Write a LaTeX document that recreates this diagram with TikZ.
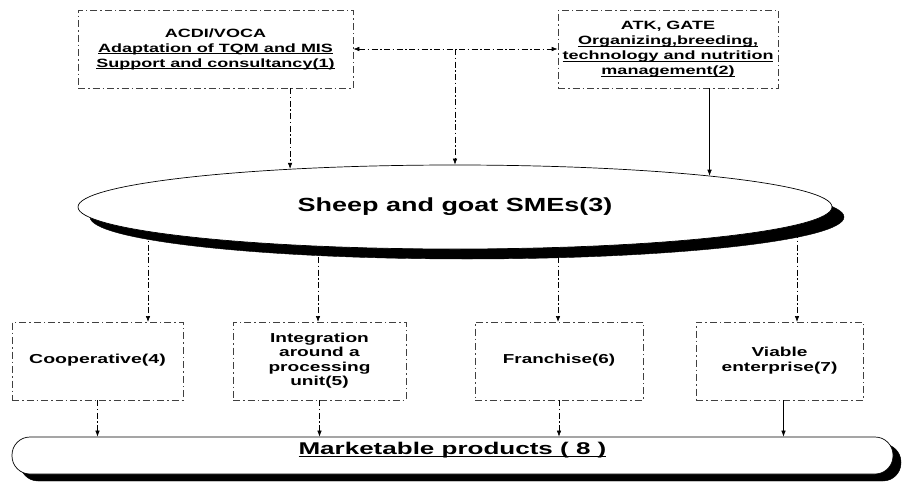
\documentclass[tikz,border=0pt]{standalone}
\usepackage{fontspec}
\setmainfont{Liberation Sans}
\usepackage{graphicx}
\usetikzlibrary{arrows.meta,shapes.geometric,backgrounds}
\newcommand{\wtxt}[2]{\scalebox{#1}[1]{\begin{tabular}{@{}c@{}}#2\end{tabular}}}
\newcommand{\ulin}[1]{$\underline{\hbox{\smash{#1}}}$}
\tikzset{
  dbox/.style={draw=black!75, line width=0.6pt, dash pattern=on 7pt off 3pt on 1.5pt off 3pt,
    inner sep=0pt, fill=white, font=\bfseries\fontsize{12}{15}\selectfont},
  lbox/.style={dbox, minimum height=78pt, font=\bfseries\fontsize{13}{14.5}\selectfont},
  arr/.style={-{Latex[length=6pt,width=4.5pt]}, line width=0.6pt,
    dash pattern=on 6pt off 2.5pt on 1.5pt off 2.5pt},
  sarr/.style={-{Latex[length=6pt,width=4.5pt]}, line width=0.6pt},
  shad/.style={fill=black, draw=black},
}
\begin{document}
\begin{tikzpicture}[x=1pt,y=-1pt]
\useasboundingbox (0,0) rectangle (907,482);
% top boxes
\node[dbox, minimum width=275pt, minimum height=78pt] (b1) at (215.5,49)
  {\wtxt{1.5}{ACDI/VOCA\\ \ulin{Adaptation of TQM and MIS}\\ \ulin{Support and consultancy(1)}}};
\node[dbox, minimum width=220pt, minimum height=78pt] (b2) at (668,49)
  {\wtxt{1.5}{ATK, GATE\\ \ulin{Organizing,breeding,}\\ \ulin{technology and nutrition}\\ \ulin{management(2)}}};
% ellipse with shadow
\node[ellipse, shad, minimum width=754pt, minimum height=84pt, inner sep=0pt] (sh) at (467,217) {};
\node[ellipse, draw=black, line width=0.7pt, fill=white, minimum width=754pt, minimum height=84pt, inner sep=0pt,
  font=\bfseries\fontsize{19}{21}\selectfont] (sme) at (455,207) {\scalebox{1.42}[1]{Sheep and goat SMEs(3)}};
% bottom boxes
\node[lbox, minimum width=171pt] (b4) at (97.5,361) {\wtxt{1.5}{Cooperative(4)}};
\node[lbox, minimum width=173pt] (b5) at (319.5,361) {\wtxt{1.47}{Integration\\ around a\\ processing\\ unit(5)}};
\node[lbox, minimum width=168pt] (b6) at (559,361) {\wtxt{1.45}{Franchise(6)}};
\node[lbox, minimum width=167pt] (b7) at (779.5,361) {\wtxt{1.47}{Viable\\ enterprise(7)}};
% marketable products
\node[shad, rounded corners=18pt, minimum width=881pt, minimum height=37pt, inner sep=0pt] (mksh) at (460.5,462.5) {};
\node[draw=black, line width=0.7pt, fill=white, rounded corners=18pt, minimum width=881pt, minimum height=37pt, inner sep=0pt,
  font=\bfseries\fontsize{17}{19}\selectfont] (mk) at (452.5,455.5) {\scalebox{1.53}[1]{\ulin{Marketable products ( 8 )}}};
% top connectors
\coordinate (hub) at (b1.east -| sme.north);
\draw[arr, {Latex[length=6pt,width=4.5pt]}-{Latex[length=6pt,width=4.5pt]}] (b1.east) -- (b2.west);
\draw[arr] (hub) -- (sme.north);
\draw[arr] (sme.167.83 |- b1.south) -- (sme.167.83);
\draw[sarr] (sme.7.8 |- b2.south) -- (sme.7.8);
% ellipse to boxes (start hidden under ellipse)
\begin{pgfonlayer}{background}
\coordinate (a4) at (148,322);
\coordinate (a5) at (318,322);
\coordinate (a6) at (558,322);
\coordinate (a7) at (797,322);
\draw[arr] (sme.center -| a4) -- (a4);
\draw[arr] (sme.center -| a5) -- (a5);
\draw[arr] (sme.center -| a6) -- (a6);
\draw[arr] (sme.center -| a7) -- (a7);
\end{pgfonlayer}
% boxes to marketable
\draw[arr] (b4.south) -- (b4.south |- mk.north);
\draw[arr] (b5.south) -- (b5.south |- mk.north);
\draw[arr] (b6.south) -- (b6.south |- mk.north);
\draw[sarr] ([xshift=4pt]b7.south) -- ([xshift=4pt]b7.south |- mk.north);
\end{tikzpicture}
\end{document}
